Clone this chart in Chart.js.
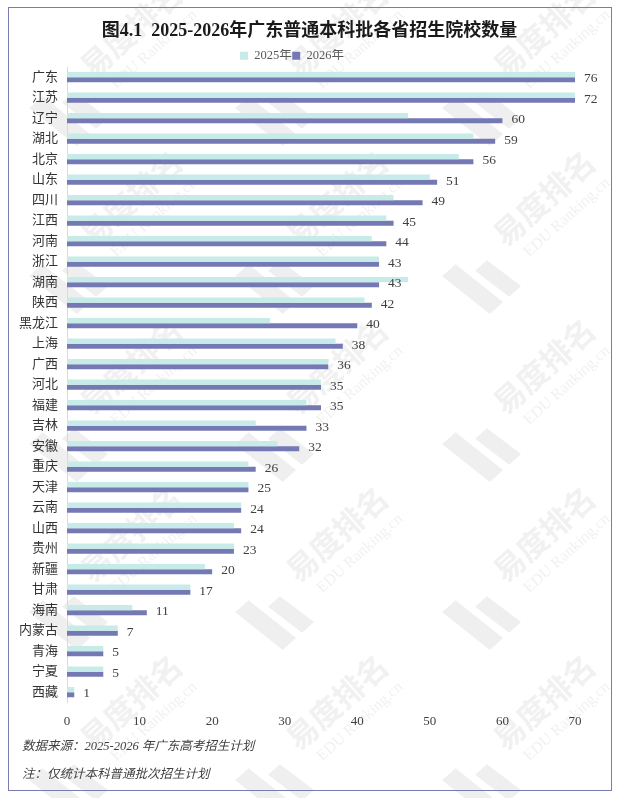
<!DOCTYPE html>
<html lang="zh">
<head>
    <meta charset="UTF-8">
    <title>图4.1 招生院校数量</title>
    <script src="https://cdn.jsdelivr.net/npm/chart.js"></script>
    <style>
        body {
            margin: 0;
            background: #fff;
            font-family: "Liberation Serif", "Noto Sans CJK SC", serif;
        }
        #mark {
            position: absolute;
            left: 0;
            top: 0;
        }
        #box {
            position: absolute;
            left: 8px;
            top: 7px;
            width: 604px;
            height: 784px;
            box-sizing: border-box;
            border: 1.5px solid #7b7bb3;
        }
        #title {
            position: absolute;
            left: 0;
            top: 11px;
            width: 601px;
            text-align: center;
            font-size: 18px;
            font-weight: bold;
            line-height: 22px;
            color: #1a1a1a;
        }
        #wrap {
            position: absolute;
            left: 0;
            top: 0;
            width: 601px;
            height: 724px;
        }
        .note {
            position: absolute;
            left: 13px;
            font-style: italic;
            font-size: 12.5px;
            color: #404040;
        }
    </style>
</head>
<body>
<canvas id="mark" width="619" height="798"></canvas>
<div id="box">
    <div id="title">图4.1&nbsp;&nbsp;2025-2026年广东普通本科批各省招生院校数量</div>
    <div id="wrap"><canvas id="chart"></canvas></div>
    <div class="note" style="top:727px">数据来源：2025-2026 年广东高考招生计划</div>
    <div class="note" style="top:755px">注：仅统计本科普通批次招生计划</div>
</div>

<script>
    const provinces = ['广东', '江苏', '辽宁', '湖北', '北京', '山东', '四川', '江西', '河南', '浙江',
        '湖南', '陕西', '黑龙江', '上海', '广西', '河北', '福建', '吉林', '安徽', '重庆',
        '天津', '云南', '山西', '贵州', '新疆', '甘肃', '海南', '内蒙古', '青海', '宁夏', '西藏'];
    const schools2025 = [74, 71, 47, 56, 54, 50, 45, 44, 42, 43, 47, 41, 28, 37, 36, 35, 33, 26, 29, 25,
        25, 24, 23, 23, 19, 17, 9, 7, 5, 5, 1];
    const schools2026 = [76, 72, 60, 59, 56, 51, 49, 45, 44, 43, 43, 42, 40, 38, 36, 35, 35, 33, 32, 26,
        25, 24, 24, 23, 20, 17, 11, 7, 5, 5, 1];
    const xTicks = [0, 10, 20, 30, 40, 50, 60, 70];

    const serif = '"Liberation Serif", "Noto Sans CJK SC", serif';

    // faint "易度排名" watermark behind everything
    function drawWatermark() {
        const c = document.getElementById('mark').getContext('2d');
        const cols = [-76, 131, 337, 544, 751];
        const rows = [-138, 30, 198, 366, 534, 702, 870];
        cols.forEach(cx => rows.forEach(cy => {
            c.save();
            c.translate(cx, cy);
            c.rotate(-42 * Math.PI / 180);
            c.fillStyle = '#f1f1f1';
            c.textAlign = 'center';
            c.textBaseline = 'middle';
            c.font = 'bold 31px "Noto Sans CJK SC", sans-serif';
            c.fillText('易度排名', 0, 0);
            c.font = '16px "Liberation Serif", serif';
            c.fillText('EDU Ranking.cn', 4, 30);
            // logo: two slanted blocks left of the text
            c.fillStyle = '#efefef';
            c.beginPath();
            c.moveTo(-128, -10); c.lineTo(-110, -10); c.lineTo(-100, 50); c.lineTo(-118, 50);
            c.closePath(); c.fill();
            c.beginPath();
            c.moveTo(-100, 8); c.lineTo(-84, 8); c.lineTo(-76, 50); c.lineTo(-92, 50);
            c.closePath(); c.fill();
            c.restore();
        }));
    }
    drawWatermark();

    // legend sits close to the plot, so take a few px off its box
    const tightLegend = {
        id: 'tightLegend',
        afterInit(chart) {
            const lg = chart.legend;
            if (!lg) return;
            const fit = lg.fit.bind(lg);
            lg.fit = function () {
                fit();
                this.height -= 5;
            };
        }
    };

    // labels for 2026 bars, stuck to the right edge when the bar is cut off
    const valueLabels = {
        id: 'valueLabels',
        afterDatasetsDraw(chart) {
            const ctx = chart.ctx;
            const meta = chart.getDatasetMeta(1);
            const area = chart.chartArea;
            ctx.save();
            ctx.font = '13.5px ' + serif;
            ctx.fillStyle = '#404040';
            ctx.textAlign = 'left';
            ctx.textBaseline = 'middle';
            meta.data.forEach((bar, i) => {
                const x = Math.min(bar.x, area.right) + 9;
                ctx.fillText(String(schools2026[i]), x, bar.y - 1);
            });
            ctx.restore();
        }
    };

    new Chart(document.getElementById('chart'), {
        type: 'bar',
        data: {
            labels: provinces,
            datasets: [{
                label: '2025年',
                data: schools2025,
                backgroundColor: '#c6ebe8'
            }, {
                label: '2026年',
                data: schools2026,
                backgroundColor: '#7579b3'
            }]
        },
        options: {
            indexAxis: 'y',
            responsive: true,
            maintainAspectRatio: false,
            animation: false,
            categoryPercentage: 0.5,
            barPercentage: 1.0,
            layout: {
                padding: { left: 0, right: 35, top: 41, bottom: 0 }
            },
            plugins: {
                title: { display: false },
                legend: {
                    position: 'top',
                    labels: {
                        boxWidth: 8,
                        boxHeight: 8,
                        padding: 0.5,
                        color: '#595959',
                        font: { family: serif, size: 12.5 }
                    }
                },
                tooltip: { enabled: false }
            },
            scales: {
                x: {
                    min: 0,
                    max: 70,
                    afterBuildTicks(scale) {
                        scale.ticks = xTicks.map(v => ({ value: v }));
                    },
                    grid: { display: false },
                    border: { display: false },
                    ticks: {
                        color: '#404040',
                        padding: 3,
                        font: { family: serif, size: 13 }
                    }
                },
                y: {
                    grid: { display: false },
                    border: { display: true, color: '#d9d9d9', width: 1 },
                    afterFit(scale) {
                        scale.width = 58;
                    },
                    ticks: {
                        color: '#333333',
                        padding: 1,
                        autoSkip: false,
                        font: { family: serif, size: 13 }
                    }
                }
            }
        },
        plugins: [tightLegend, valueLabels]
    });
</script>
</body>
</html>
